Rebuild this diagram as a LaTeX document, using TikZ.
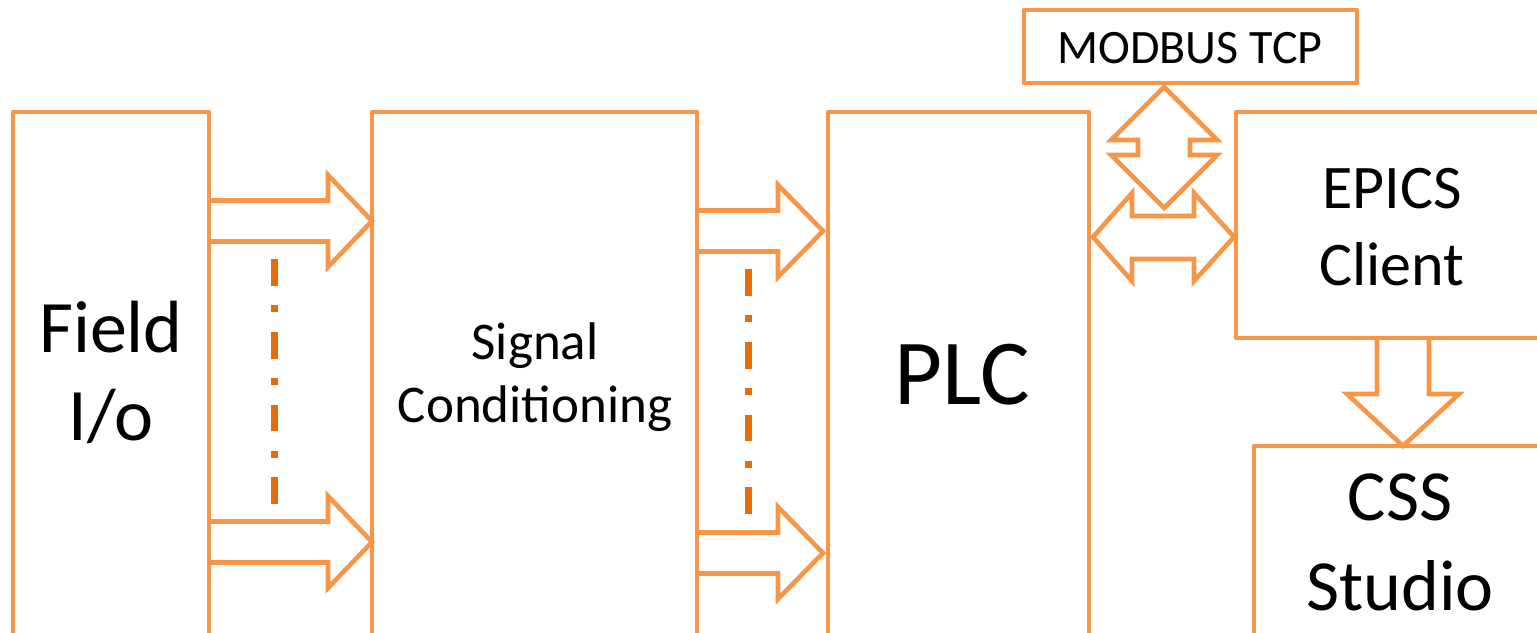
\documentclass[tikz,border=0pt]{standalone}
\usepackage{fontspec}
\setmainfont{Carlito}
\definecolor{boxorange}{HTML}{F79646}
\definecolor{dashorange}{HTML}{E46C0A}
\begin{document}
\begin{tikzpicture}[x=1pt,y=-1pt,
  blockbox/.style={draw=boxorange, line width=4.8pt, line join=round, inner sep=0pt, outer sep=0pt, anchor=north west, fill=white},
  fatarrow/.style={draw=boxorange, line width=4.6pt, line join=miter, miter limit=10},
  dotline/.style={draw=dashorange, line width=7pt, dash pattern=on 26.7pt off 19.7pt on 6.7pt off 19.7pt},
  txt/.style={anchor=base, inner sep=0pt, text=black},
]
\useasboundingbox (0,0) rectangle (1537,632);
\clip (0,0) rectangle (1537,632);

% blocks
\node[blockbox, minimum width=196pt, minimum height=523pt] (field) at (13,112) {};
\node[blockbox, minimum width=325pt, minimum height=523pt] (sig) at (372,112) {};
\node[blockbox, minimum width=261pt, minimum height=523pt] (plc) at (828,112) {};
\node[blockbox, minimum width=320pt, minimum height=226pt] (epics) at (1236,112) {};
\node[blockbox, minimum width=300pt, minimum height=189pt] (css) at (1254,446) {};
\node[blockbox, minimum width=333pt, minimum height=73pt] (modbus) at (1024,10) {};

% labels
\node[txt, font=\fontsize{74}{88}\selectfont] (fieldA) at (111,352) {Field};
\node[txt, font=\fontsize{74}{88}\selectfont] (fieldB) at (111,440) {I/o};
\node[txt, font=\fontsize{53}{64}\selectfont] (sigA) at (535,359) {Signal};
\node[txt, font=\fontsize{53}{64}\selectfont] (sigB) at (535,422) {Conditioning};
\node[txt, font=\fontsize{93}{110}\selectfont] (plcA) at (962,404) {PLC};
\node[txt, font=\fontsize{62}{76}\selectfont] (epA) at (1392,208) {EPICS};
\node[txt, font=\fontsize{62}{76}\selectfont] (epB) at (1392,285) {Client};
\node[txt, font=\fontsize{72}{90}\selectfont] (cssA) at (1400,520) {CSS};
\node[txt, font=\fontsize{72}{90}\selectfont] (cssB) at (1400,610) {Studio};
\node[txt, font=\fontsize{48}{58}\selectfont] (mbA) at (1190,63) {MODBUS TCP};

% Field -> Signal arrows
\draw[fatarrow] (field.east |- 0,200.5) -- (328,200.5) -- (328,175) -- (sig.west |- 0,221)
  -- (328,267) -- (328,241.5) -- (field.east |- 0,241.5);
\draw[fatarrow] (field.east |- 0,521.5) -- (328,521.5) -- (328,496) -- (sig.west |- 0,542)
  -- (328,588) -- (328,562.5) -- (field.east |- 0,562.5);
% Signal -> PLC arrows
\draw[fatarrow] (sig.east |- 0,210.5) -- (778,210.5) -- (778,185) -- (823,231)
  -- (778,277) -- (778,251.5) -- (sig.east |- 0,251.5);
\draw[fatarrow] (sig.east |- 0,532.5) -- (778,532.5) -- (778,507) -- (823,553)
  -- (778,599) -- (778,573.5) -- (sig.east |- 0,573.5);

% dash-dot continuation lines
\draw[dotline] (274,259) -- (274,507);
\draw[dotline] (748,269) -- (748,517);

% MODBUS <-> vertical double arrow
\draw[fatarrow] (1164,87) -- (1217,140) -- (1190,140) -- (1190,155) -- (1217,155)
  -- (1164,208) -- (1111,155) -- (1138,155) -- (1138,140) -- (1111,140) -- cycle;
% PLC <-> EPICS horizontal double arrow
\draw[fatarrow] (plc.east |- 0,237) ++(4,0) -- (1132,193) -- (1132,216) -- (1194,216) -- (1194,193)
  -- (1234,237) -- (1194,281) -- (1194,259) -- (1132,259) -- (1132,281) -- cycle;
% EPICS -> CSS down arrow
\draw[fatarrow] (1377,339) -- (1377,394) -- (1347,394) -- (css.north -| 1403,0)
  -- (1459,394) -- (1429,394) -- (1429,339);
\end{tikzpicture}
\end{document}
